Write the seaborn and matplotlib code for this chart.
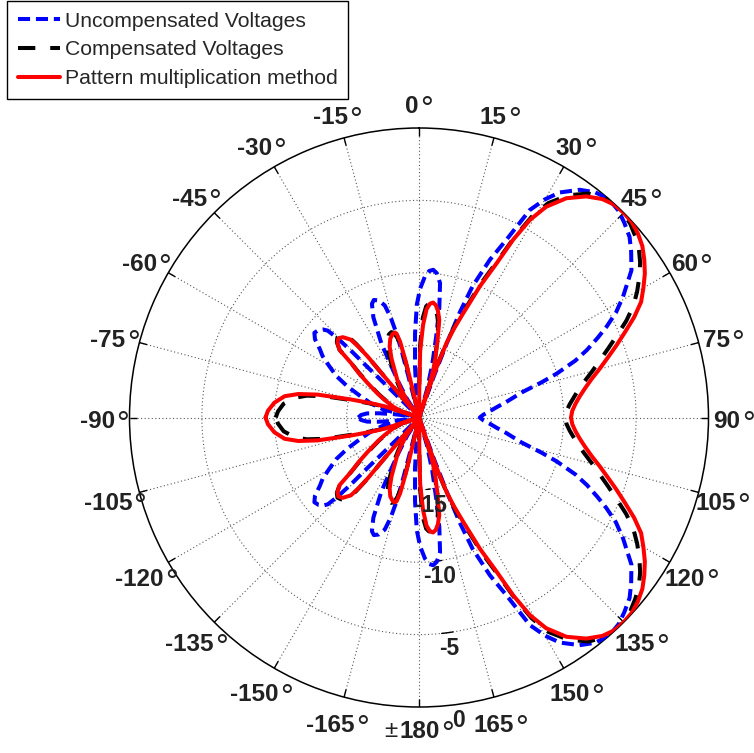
import numpy as np
import pandas as pd
import matplotlib
matplotlib.use("Agg")
import matplotlib.pyplot as plt
from matplotlib.lines import Line2D
from matplotlib.offsetbox import TextArea, HPacker, AnnotationBbox
import seaborn as sns

# ---------------------------------------------------------------------------
# Radiation patterns (dB, normalised), traced clockwise from -90 deg to 270 deg.
# Angles are measured clockwise from the top (0 deg).
# ---------------------------------------------------------------------------
unc_upper_deg = [-90, -87.5, -85.5, -84, -82.5, -81, -80,
                 -79.5, -78.5, -77.4, -74, -70, -66.5, -63.3, -60, -57.5, -55.5, -53, -51, -49, -47.5,
                 -46.4, -45.8, -45.5, -45.6, -45.4, -45, -44.3,
                 -36, -33, -30, -27, -24.5, -22.5, -21, -19, -17, -15.8, -15, -14.6, -14.5, -14.3, -13.8,
                 -8, -6.4, -4.5, -2.7, -1.1, 0.5, 2.4, 4, 5.5, 7, 8.9, 10.5, 12, 14, 16, 17.5,
                 19, 19.8, 20.5, 21.2, 22.2, 24.2, 26.2, 28.1, 30, 32, 35.2, 38, 41, 44, 46.5, 49.4,
                 52, 55.3, 59.4, 62, 64.2, 66, 68.1, 70, 72.3, 74, 76.3, 78, 80, 82.5, 85, 87.5, 90]
unc_upper_db = [-15.8, -16.0, -16.4, -17.2, -18.2, -19.2, -20,
                -20, -18.5, -17.5, -16.6, -15.7, -14.6, -13.6, -12.8, -12.1, -11.7, -11.0, -10.7, -10.8, -11.0,
                -11.3, -12.2, -13.4, -15.0, -16.8, -18.5, -20,
                -20, -18.5, -17.1, -14.3, -12.4, -11.5, -11.3, -11.45, -11.9, -12.8, -14.0, -15.2, -16.6, -18.0, -20,
                -20, -18.5, -16.5, -14.2, -12.2, -11.1, -10.25, -9.85, -9.75, -9.95, -10.6, -12.3, -14.3, -16.2, -18.0, -20,
                -20, -17.0, -14.5, -12.2, -10.2, -8.05, -6.3, -3.75, -2.6, -1.67, -0.75, -0.25, 0.0, -0.15, -0.45, -0.84,
                -1.4, -2.15, -3.63, -4.6, -5.62, -6.5, -7.5, -8.5, -10.0, -11.2, -12.7, -13.3, -13.9, -14.6, -15.1, -15.55, -15.8]
unc_lower_deg = [90, 92.5, 95, 97.5, 100, 102, 103.7, 106, 107.7, 110, 111.9, 114, 115.8, 118, 120.6,
                 124.7, 128, 130.6, 133.5, 136, 139, 142, 144.8, 148, 150, 151.9, 153.8, 155.8, 157.8, 158.8, 159.5, 160.2, 161,
                 162.5, 164, 166, 168, 169.5, 171.1, 173, 174.5, 176, 177.6, 179.5, 181.1, 182.7, 184.5, 186.4, 188,
                 193.8, 194.3, 194.5, 194.6, 195, 195.8, 197, 199, 201, 202.5, 204.5, 207, 210, 213, 216,
                 224.3, 225, 225.4, 225.6, 225.5, 225.8, 226.4, 227.5, 229, 231, 233, 235.5, 237.5, 240, 243.3, 246.5, 250, 254, 257.4, 258.5, 259.5,
                 260, 261, 262.5, 264, 265.5, 267.5, 270]
unc_lower_db = [-15.8, -15.55, -15.1, -14.6, -13.9, -13.3, -12.7, -11.2, -10.0, -8.5, -7.5, -6.5, -5.62, -4.6, -3.63,
                -2.15, -1.4, -0.84, -0.45, -0.15, 0.0, -0.25, -0.75, -1.67, -2.6, -3.75, -6.3, -8.05, -10.2, -12.2, -14.5, -17.0, -20,
                -20, -18.0, -16.2, -14.3, -12.3, -10.6, -9.95, -9.75, -9.85, -10.25, -11.1, -12.2, -14.2, -16.5, -18.5, -20,
                -20, -18.0, -16.6, -15.2, -14.0, -12.8, -11.9, -11.45, -11.3, -11.5, -12.4, -14.3, -17.1, -18.5, -20,
                -20, -18.5, -16.8, -15.0, -13.4, -12.2, -11.3, -11.0, -10.8, -10.7, -11.0, -11.7, -12.1, -12.8, -13.6, -14.6, -15.7, -16.6, -17.5, -18.5, -20,
                -20, -19.2, -18.2, -17.2, -16.4, -16.0, -15.8]

comp_upper_deg = [-90, -87.5, -84.2, -81, -79, -77.3, -75.2, -73.5, -72, -71.3,
                  -70.9, -67.5, -62.8, -60, -56.1, -53.5, -51.3, -49.6, -47.5, -45.5, -43.5, -41.2, -40.5, -40.1, -40.2, -40.0, -39.5,
                  -38.5, -35.2, -32.5, -30, -27.5, -25, -22.5, -20, -18, -16.5, -15.2, -14.2, -13.5, -12.9, -12.3,
                  0.2, 0.5, 0.9, 2.2, 3.7, 5, 6.5, 8, 10, 11.7, 13.8, 15.5, 16.6, 17.5, 18.2,
                  18.8, 19.5, 20.3, 21.5, 22.95, 24.9, 26.7, 27.9, 29.3, 31.1, 33.9, 37.1, 40, 42.5, 45, 47.5,
                  50, 52.5, 55, 57.5, 60, 62.5, 65, 67.5, 70, 72.5, 75, 77.5, 80, 82.5, 85, 87.5, 90]
comp_upper_db = [-10.1, -10.25, -10.6, -11.3, -12.1, -13.3, -15.5, -16.8, -17.8, -20,
                 -18.8, -18.2, -17.4, -16.8, -15.8, -14.9, -14.0, -12.8, -12.3, -12.1, -12.2, -12.6, -13.3, -14.3, -16.3, -18.0, -20,
                 -20, -18.3, -17.4, -16.6, -15.9, -15.0, -14.3, -13.9, -13.8, -13.9, -14.3, -15.0, -16.3, -18.0, -20,
                 -20, -17.5, -15.0, -13.1, -12.3, -12.1, -12.1, -12.35, -12.8, -13.4, -14.9, -16.0, -16.7, -17.6, -20,
                 -17.3, -15.8, -14.3, -13.1, -11.9, -9.7, -7.8, -5.9, -4.1, -2.7, -1.5, -0.6, -0.15, 0.0, -0.05, -0.2,
                 -0.5, -0.85, -1.35, -1.95, -2.6, -3.3, -4.2, -5.2, -6.1, -6.9, -7.6, -8.25, -8.8, -9.2, -9.55, -9.8, -9.9]
comp_lower_deg = [90, 92.5, 95, 97.5, 100, 102.5, 105, 107.5, 110, 112.5, 115, 117.5, 120, 122.5, 125, 127.5,
                  130, 132.5, 135, 137.5, 140, 142.9, 146.1, 148.9, 150.7, 152.1, 153.3, 155.1, 157.05, 158.5, 159.7, 160.5, 161.2,
                  161.8, 162.5, 163.4, 164.5, 166.2, 168.3, 170, 172, 173.5, 175, 176.3, 177.8, 179.1, 179.5, 179.8,
                  192.3, 192.9, 193.5, 194.2, 195.2, 196.5, 198, 200, 202.5, 205, 207.5, 210, 212.5, 215.2, 218.5,
                  219.5, 220, 220.2, 220.1, 220.5, 221.2, 223.5, 225.5, 227.5, 229.6, 231.3, 233.5, 236.1, 240, 242.8, 247.5, 250.9,
                  251.3, 252, 253.5, 255.2, 257.3, 259, 261, 264.2, 267.5, 270]
comp_lower_db = [-9.9, -9.8, -9.55, -9.2, -8.8, -8.25, -7.6, -6.9, -6.1, -5.2, -4.2, -3.3, -2.6, -1.95, -1.35, -0.85,
                 -0.5, -0.2, -0.05, 0.0, -0.15, -0.6, -1.5, -2.7, -4.1, -5.9, -7.8, -9.7, -11.9, -13.1, -14.3, -15.8, -17.3,
                 -20, -17.6, -16.7, -16.0, -14.9, -13.4, -12.8, -12.35, -12.1, -12.1, -12.3, -13.1, -15.0, -17.5, -20,
                 -20, -18.0, -16.3, -15.0, -14.3, -13.9, -13.8, -13.9, -14.3, -15.0, -15.9, -16.6, -17.4, -18.3, -20,
                 -20, -18.0, -16.3, -14.3, -13.3, -12.6, -12.2, -12.1, -12.3, -12.8, -14.0, -14.9, -15.8, -16.8, -17.4, -18.2, -18.8,
                 -20, -17.8, -16.8, -15.5, -13.3, -12.1, -11.3, -10.6, -10.25, -10.1]

pm_upper_deg = [-90, -87.5, -84.2, -81, -79, -77.3, -75.2, -73.5, -72, -71.3,
                -70.9, -67.5, -62.8, -60, -56.1, -53.5, -51.3, -49.6, -47.5, -45.5, -43.5, -41.2, -40.5, -40.1, -40.2, -40.0, -39.5,
                -38.5, -35.2, -32.5, -30, -27.5, -25, -22.5, -20, -17.5, -16, -15, -14, -13.3, -12.8, -12.3,
                0.3, 0.6, 1, 2.5, 4, 5.5, 7, 8.5, 10, 11.7, 13.8, 15.5, 16.6, 17.5, 18.2,
                18.8, 19.5, 20.3, 21.5, 22.95, 24.9, 26.7, 27.9, 29.3, 31.1, 33.9, 37.1, 40, 42.5, 45, 47.5,
                50, 52.5, 55, 57.5, 60, 62.5, 65, 67.5, 70, 72.5, 75, 77.5, 80, 82.5, 85, 87.5, 90]
pm_upper_db = [-9.4, -9.55, -9.95, -10.6, -11.5, -12.8, -15.1, -16.5, -17.5, -20,
               -18.7, -18.1, -17.3, -16.7, -15.7, -14.8, -14.0, -12.8, -12.35, -12.2, -12.35, -12.85, -13.6, -14.5, -16.3, -18.0, -20,
               -20, -18.5, -17.7, -17.0, -16.4, -15.5, -14.7, -14.2, -13.95, -13.9, -14.0, -14.6, -16.0, -18.0, -20,
               -20, -17.8, -15.4, -13.6, -12.5, -12.1, -12.0, -12.15, -12.5, -13.1, -14.7, -15.8, -16.5, -17.5, -20,
               -17.5, -16.0, -14.5, -13.4, -12.2, -10.0, -8.1, -6.1, -4.35, -3.0, -1.75, -0.85, -0.3, -0.05, 0.0, -0.05,
               -0.25, -0.55, -1.0, -1.5, -2.1, -2.7, -3.6, -4.6, -5.5, -6.35, -7.1, -7.8, -8.35, -8.8, -9.15, -9.4, -9.5]
pm_lower_deg = [90, 92.5, 95, 97.5, 100, 102.5, 105, 107.5, 110, 112.5, 115, 117.5, 120, 122.5, 125, 127.5,
                130, 132.5, 135, 137.5, 140, 142.9, 146.1, 148.9, 150.7, 152.1, 153.3, 155.1, 157.05, 158.5, 159.7, 160.5, 161.2,
                161.8, 162.5, 163.4, 164.5, 166.2, 168.3, 170, 171.5, 173, 174.5, 176, 177.5, 179, 179.4, 179.7,
                192.3, 192.8, 193.3, 194, 195, 196, 197.5, 200, 202.5, 205, 207.5, 210, 212.5, 215.2, 218.5,
                219.5, 220, 220.2, 220.1, 220.5, 221.2, 223.5, 225.5, 227.5, 229.6, 231.3, 233.5, 236.1, 240, 242.8, 247.5, 250.9,
                251.3, 252, 253.5, 255.2, 257.3, 259, 261, 264.2, 267.5, 270]
pm_lower_db = [-9.5, -9.4, -9.15, -8.8, -8.35, -7.8, -7.1, -6.35, -5.5, -4.6, -3.6, -2.7, -2.1, -1.5, -1.0, -0.55,
               -0.25, -0.05, 0.0, -0.05, -0.3, -0.85, -1.75, -3.0, -4.35, -6.1, -8.1, -10.0, -12.2, -13.4, -14.5, -16.0, -17.5,
               -20, -17.5, -16.5, -15.8, -14.7, -13.1, -12.5, -12.15, -12.0, -12.1, -12.5, -13.6, -15.4, -17.8, -20,
               -20, -18.0, -16.0, -14.6, -14.0, -13.9, -13.95, -14.2, -14.7, -15.5, -16.4, -17.0, -17.7, -18.5, -20,
               -20, -18.0, -16.3, -14.5, -13.6, -12.85, -12.35, -12.2, -12.35, -12.8, -14.0, -14.8, -15.7, -16.7, -17.3, -18.1, -18.7,
               -20, -17.5, -16.5, -15.1, -12.8, -11.5, -10.6, -9.95, -9.55, -9.4]

series_names = ["Uncompensated Voltages", "Compensated Voltages", "Pattern multiplication method"]
radial_ticks_db = [-15, -10, -5, 0]
angle_ticks_deg = list(range(0, 360, 15))

DB_FLOOR = -20.0

def to_frame(deg_a, db_a, deg_b, db_b):
    deg = np.array(deg_a + deg_b, dtype=float)
    db = np.array(db_a + db_b, dtype=float)
    return pd.DataFrame({"theta": np.deg2rad(deg),
                         "r": np.clip(db - DB_FLOOR, 0, None),
                         "order": np.arange(len(deg))})

frames = [to_frame(unc_upper_deg, unc_upper_db, unc_lower_deg, unc_lower_db),
          to_frame(comp_upper_deg, comp_upper_db, comp_lower_deg, comp_lower_db),
          to_frame(pm_upper_deg, pm_upper_db, pm_lower_deg, pm_lower_db)]

sns.set_style("white")
plt.rcParams["font.family"] = ["Liberation Sans", "DejaVu Sans"]
TXT = "#222222"

W, H = 754, 753
fig = plt.figure(figsize=(W / 100, H / 100), dpi=100, facecolor="white")
cx, cy, R = 419.0, 417.5, 289.5
ax = fig.add_axes([(cx - R) / W, (H - cy - R) / H, 2 * R / W, 2 * R / H], projection="polar")
ax.set_theta_zero_location("N")
ax.set_theta_direction(-1)
ax.set_ylim(0, 20)

# grid: dotted spokes every 15 deg, dotted rings at -15/-10/-5 dB
ax.set_xticks(np.deg2rad(angle_ticks_deg))
ax.set_xticklabels([])
ax.set_yticks([t - DB_FLOOR for t in radial_ticks_db[:-1]])
ax.set_yticklabels([])
ax.tick_params(axis="both", length=0)
ax.grid(True, linestyle=(0, (1, 2.2)), color="0.35", linewidth=0.8)
ax.spines["polar"].set_linewidth(1.1)
ax.spines["polar"].set_color("black")

# short solid ticks on the outer ring
for a in angle_ticks_deg:
    t = np.deg2rad(a)
    ax.plot([t, t], [19.45, 20], color="black", lw=1.0, solid_capstyle="butt", zorder=2)

LW = 2.9
styles = [dict(color=(0, 0, 1), linestyle=(0, (3.0, 1.45))),
          dict(color="black", linestyle=(0, (4.3, 3.7))),
          dict(color=(1, 0, 0), linestyle="-")]
for df, st in zip(frames, styles):
    sns.lineplot(data=df, x="theta", y="r", ax=ax, sort=False, estimator=None,
                 lw=LW, dash_capstyle="butt", **st, zorder=3)
ax.set_xlabel("")
ax.set_ylabel("")

# angle labels: bold number followed by a degree ring
for a in angle_ticks_deg:
    v = a if a <= 180 else a - 360
    parts = []
    if v == 180:
        parts.append(TextArea("\u00b1", textprops=dict(fontsize=17.5, color=TXT)))
    parts.append(TextArea(f"{v}", textprops=dict(fontsize=17.5, fontweight="bold", color=TXT)))
    parts.append(TextArea("\u00b0", textprops=dict(fontsize=23, color=TXT)))
    box = HPacker(children=parts, align="top", pad=0, sep=1)
    shift = -2.0 if v == 180 else -5.5
    ab = AnnotationBbox(box, (np.deg2rad(a), 21.75), xybox=(0, shift), xycoords="data",
                        boxcoords="offset points", frameon=False, box_alignment=(0.5, 0.5),
                        annotation_clip=False)
    ax.add_artist(ab)

# radial labels with short solid marks on the rings
for t in radial_ticks_db:
    rr = t - DB_FLOOR
    if t != 0:
        arc = np.deg2rad(np.linspace(171.0, 174.0, 8))
        ax.plot(arc, np.full_like(arc, rr), color="black", lw=1.0, zorder=2)
    ax.text(np.deg2rad(172.5), rr + 1.1, f"{t}", ha="center", va="center",
            fontsize=16.5, fontweight="bold", color=TXT, clip_on=False)

handles = [Line2D([], [], lw=LW, dash_capstyle="butt", **st) for st in styles]
leg = fig.legend(handles, series_names, loc="upper left",
                 bbox_to_anchor=(7 / W, 1 - 1 / H), fontsize=15.2, frameon=True,
                 fancybox=False, framealpha=1, edgecolor="black", borderpad=0.5,
                 labelspacing=0.47, handlelength=2.0, handletextpad=0.25, borderaxespad=0)
leg.get_frame().set_linewidth(1.0)

fig.savefig("out.png", dpi=100, facecolor="white")
